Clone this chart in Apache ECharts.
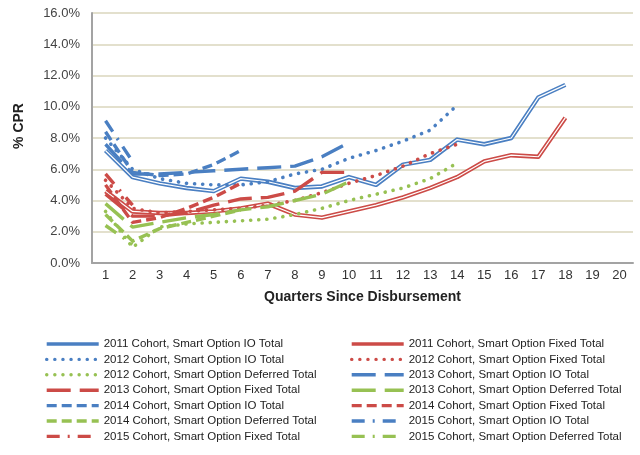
<!DOCTYPE html>
<html>
<head>
<meta charset="utf-8">
<script src="https://cdn.jsdelivr.net/npm/echarts@6/dist/echarts.min.js"></script>
<style>
html,body{margin:0;padding:0;background:#fff;}
#chart{width:640px;height:455px;}
</style>
</head>
<body>
<div id="chart"></div>
<script>
var quarters = ['1','2','3','4','5','6','7','8','9','10','11','12','13','14','15','16','17','18','19','20'];
var yTicks = [0, 2, 4, 6, 8, 10, 12, 14, 16];

var io2011    = [7.2, 5.5, 5.1, 4.8, 4.6, 5.4, 5.2, 4.8, 4.9, 5.5, 5.0, 6.3, 6.6, 7.9, 7.6, 8.0, 10.6, 11.4];
var fixed2011 = [4.6, 3.3, 3.2, 3.2, 3.3, 3.5, 3.8, 3.1, 2.9, 3.3, 3.7, 4.2, 4.8, 5.5, 6.5, 6.9, 6.8, 9.3];
var io2012    = [8.0, 6.0, 5.4, 5.1, 5.0, 5.0, 5.2, 5.7, 6.0, 6.7, 7.2, 7.8, 8.5, 10.1];
var fixed2012 = [5.3, 3.5, 3.2, 3.3, 3.4, 3.5, 3.7, 4.0, 4.5, 5.1, 5.6, 6.2, 7.0, 7.6];
var def2012   = [3.3, 1.0, 2.3, 2.5, 2.6, 2.7, 2.8, 3.1, 3.5, 4.0, 4.4, 4.8, 5.4, 6.4];
var io2013    = [7.6, 5.7, 5.7, 5.8, 5.9, 6.0, 6.1, 6.2, 6.8, 7.7];
var fixed2013 = [4.4, 3.0, 3.0, 3.2, 3.7, 4.1, 4.2, 4.6, 5.8, 5.8];
var def2013   = [3.8, 2.3, 2.6, 2.9, 3.1, 3.4, 3.6, 4.0, 4.4, 5.2];
var io2014    = [8.4, 5.8, 5.6, 5.7, 6.3, 7.2];
var fixed2014 = [5.0, 2.6, 2.9, 3.5, 4.2, 5.1];
var def2014   = [3.1, 1.4, 2.2, 2.6, 3.0, 3.4];
var io2015    = [9.1, 6.5];
var fixed2015 = [5.7, 3.7];
var def2015   = [2.4, 1.2];

var names = [
  '2011 Cohort, Smart Option IO Total',
  '2011 Cohort, Smart Option Fixed Total',
  '2012 Cohort, Smart Option IO Total',
  '2012 Cohort, Smart Option Fixed Total',
  '2012 Cohort, Smart Option Deferred Total',
  '2013 Cohort, Smart Option IO Total',
  '2013 Cohort, Smart Option Fixed Total',
  '2013 Cohort, Smart Option Deferred Total',
  '2014 Cohort, Smart Option IO Total',
  '2014 Cohort, Smart Option Fixed Total',
  '2014 Cohort, Smart Option Deferred Total',
  '2015 Cohort, Smart Option IO Total',
  '2015 Cohort, Smart Option Fixed Total',
  '2015 Cohort, Smart Option Deferred Total'
];

var BLUE = '#4a7fc2', RED = '#cc4b47', GREEN = '#97c153';
var SOLID = 'solid', DOT = [0.1, 8], LONG = [24, 9], MED = [10, 5], DASHDOT = [13, 8, 2, 8];

function line(name, data, color, type, width, cap, z) {
  return {
    name: name, type: 'line', data: data, symbol: 'none', smooth: false,
    animation: false, z: z,
    lineStyle: { color: color, width: width, type: type, cap: cap || 'butt', join: 'round' },
    itemStyle: { color: color },
    emphasis: { disabled: true }
  };
}
function inner(data, z) {
  return {
    name: '_inner' + z, type: 'line', data: data, symbol: 'none', silent: true,
    animation: false, z: z,
    lineStyle: { color: '#ffffff', width: 1.2, type: 'solid' },
    emphasis: { disabled: true }, tooltip: { show: false }
  };
}

var series = [
  line(names[0], io2011, BLUE, SOLID, 4.4, 'butt', 2), inner(io2011, 3),
  line(names[1], fixed2011, RED, SOLID, 4.4, 'butt', 2), inner(fixed2011, 3),
  line(names[2], io2012, BLUE, DOT, 3.6, 'round', 4),
  line(names[3], fixed2012, RED, DOT, 3.6, 'round', 4),
  line(names[4], def2012, GREEN, DOT, 3.6, 'round', 4),
  line(names[5], io2013, BLUE, LONG, 3.4, 'butt', 5),
  line(names[6], fixed2013, RED, LONG, 3.4, 'butt', 5),
  line(names[7], def2013, GREEN, LONG, 3.4, 'butt', 5),
  line(names[8], io2014, BLUE, MED, 3.4, 'butt', 6),
  line(names[9], fixed2014, RED, MED, 3.4, 'butt', 6),
  line(names[10], def2014, GREEN, MED, 3.4, 'butt', 6),
  line(names[11], io2015, BLUE, DASHDOT, 3.4, 'butt', 7),
  line(names[12], fixed2015, RED, DASHDOT, 3.4, 'butt', 7),
  line(names[13], def2015, GREEN, DASHDOT, 3.4, 'butt', 7)
];

var legendBase = {
  orient: 'vertical', itemWidth: 52, itemHeight: 14, itemGap: 3.4,
  textStyle: { fontFamily: 'Liberation Sans, Arial, sans-serif', fontSize: 11.5, color: '#222' },
  itemStyle: { opacity: 0 },
  lineStyle: { width: 3.4 },
  selectedMode: false
};

var chart = echarts.init(document.getElementById('chart'), null, { renderer: 'canvas' });
chart.setOption({
  backgroundColor: '#ffffff',
  animation: false,
  grid: { left: 92, right: 7, top: 13, bottom: 192, containLabel: false },
  xAxis: {
    type: 'category', data: quarters, boundaryGap: true,
    axisLine: { show: true, lineStyle: { color: '#a3a3a3', width: 2 } },
    axisTick: { show: false },
    axisLabel: { margin: 6, fontFamily: 'Liberation Sans, Arial, sans-serif', fontSize: 13, color: '#333', interval: 0 },
    splitLine: { show: false },
    name: 'Quarters Since Disbursement', nameLocation: 'middle', nameGap: 27,
    nameTextStyle: { fontFamily: 'Liberation Sans, Arial, sans-serif', fontSize: 14, fontWeight: 'bold', color: '#222' }
  },
  yAxis: {
    type: 'value', min: yTicks[0], max: yTicks[yTicks.length - 1], interval: 2,
    axisLine: { show: true, lineStyle: { color: '#a3a3a3', width: 2 } },
    axisTick: { show: false },
    axisLabel: { margin: 12, fontFamily: 'Liberation Sans, Arial, sans-serif', fontSize: 13, color: '#444',
      formatter: function (v) { return v.toFixed(1) + '%'; } },
    splitLine: { show: true, lineStyle: { color: '#dad6bd', width: 1.5 } }
  },
  legend: [
    Object.assign({}, legendBase, { left: 40, top: 333, data: [names[0], names[2], names[4], names[6], names[8], names[10], names[12]] }),
    Object.assign({}, legendBase, { left: 345, top: 333, data: [names[1], names[3], names[5], names[7], names[9], names[11], names[13]] })
  ],
  graphic: [{
    type: 'text', x: 19, y: 126, rotation: Math.PI / 2,
    style: { text: '% CPR', fontFamily: 'Liberation Sans, Arial, sans-serif', fontSize: 14, fontWeight: 'bold',
      fill: '#222', textAlign: 'center', textVerticalAlign: 'middle' }
  }],
  series: series
});
</script>
</body>
</html>
